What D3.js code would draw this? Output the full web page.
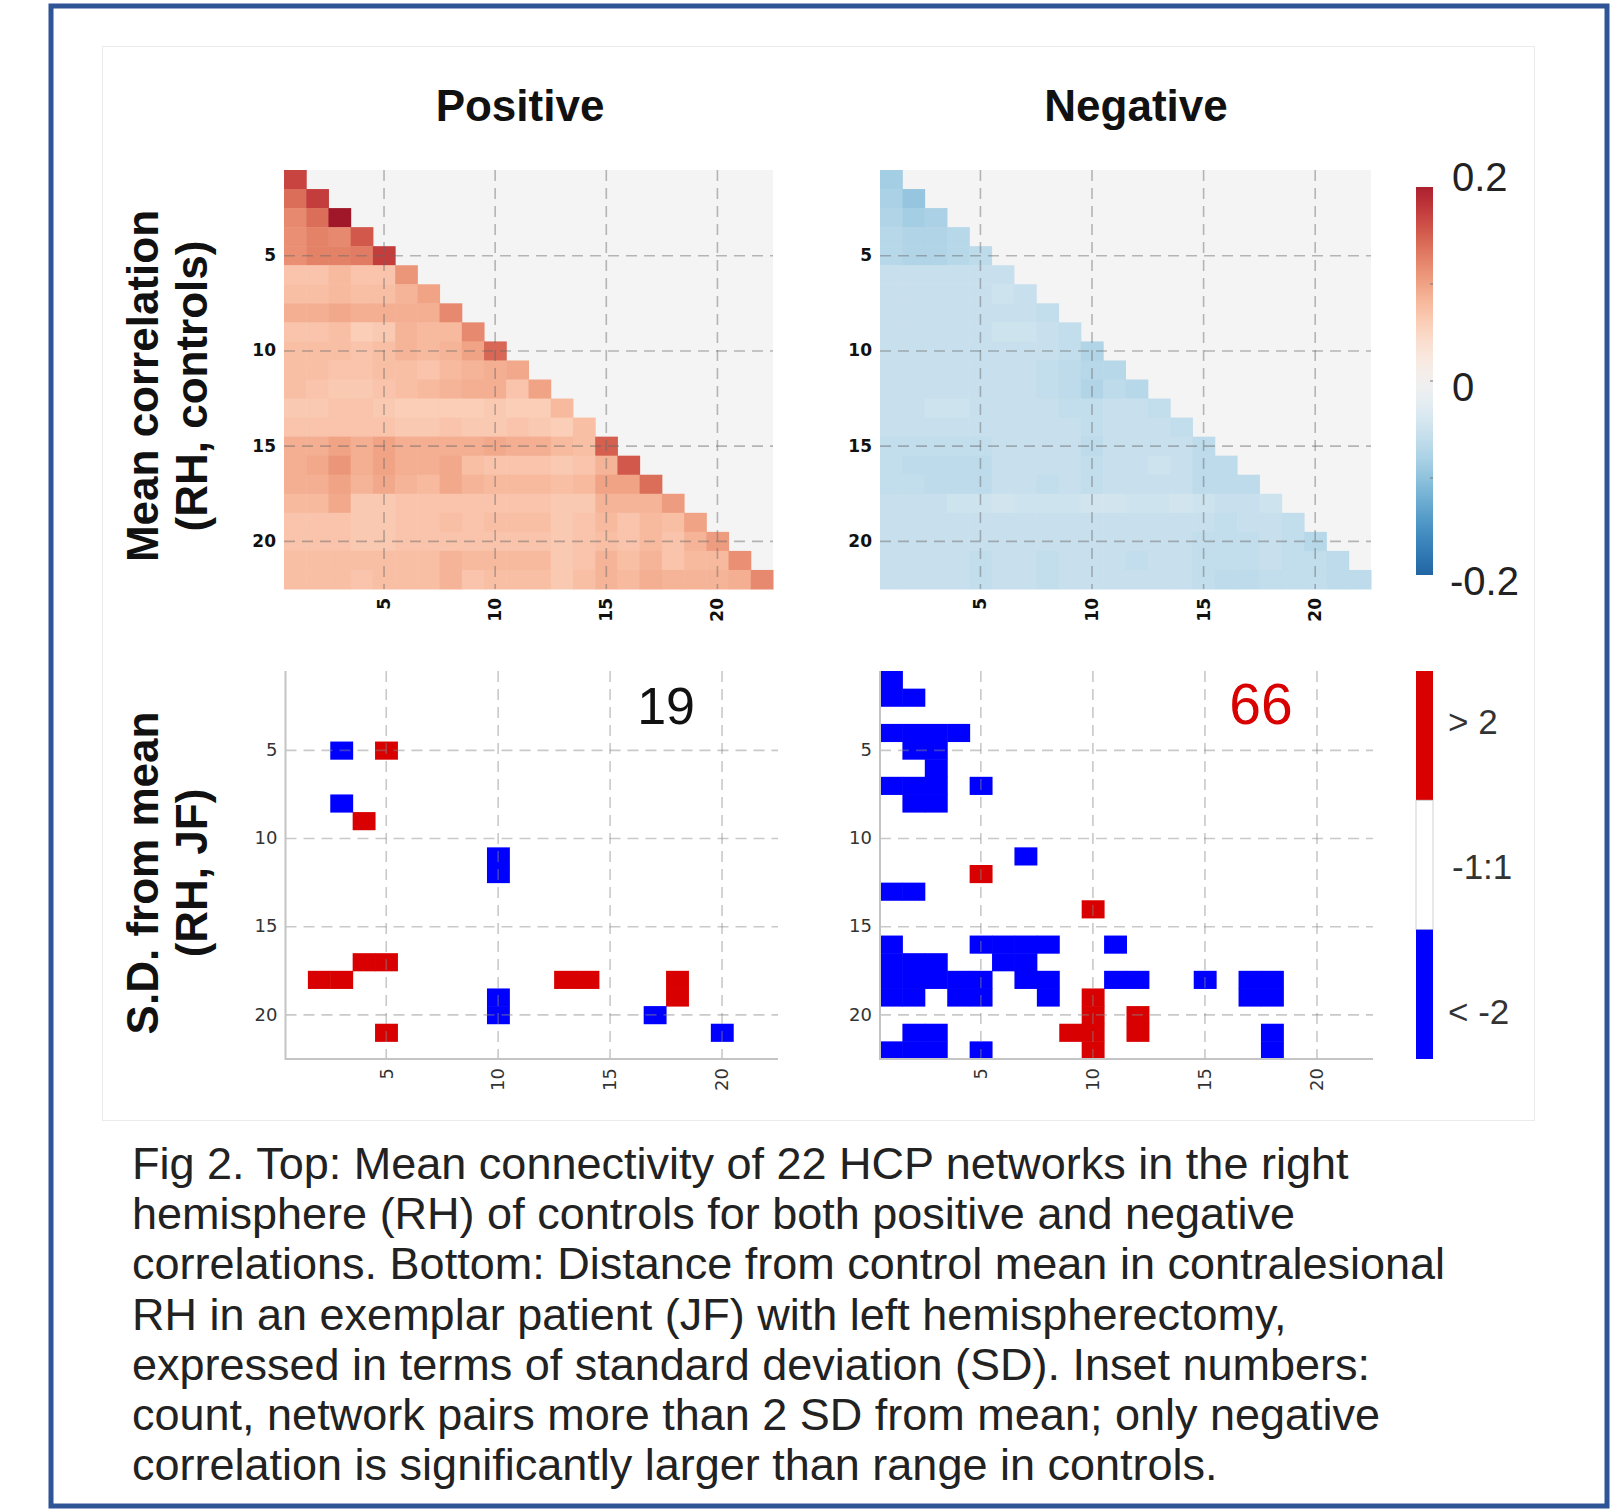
<!DOCTYPE html>
<html>
<head>
<meta charset="utf-8">
<script src="https://cdn.jsdelivr.net/npm/d3@7"></script>
<style>
  body { margin: 0; background: #fff; }
  text { font-family: "Liberation Sans", Arial, sans-serif; }
</style>
</head>
<body>
<svg id="fig" width="1615" height="1511"></svg>
<script>
// networks 1..22 on both axes
const networks = [1, 2, 3, 4, 5, 6, 7, 8, 9, 10, 11, 12, 13, 14, 15, 16, 17, 18, 19, 20, 21, 22];
const tickNets = [5, 10, 15, 20];

// mean correlation in controls, lower triangle, row by row
const positiveMean = [
  [.17],
  [.14, .175],
  [.12, .14, .21],
  [.115, .125, .12, .155],
  [.115, .125, .125, .13, .175],
  [.07, .07, .08, .07, .07, .11],
  [.075, .075, .08, .075, .075, .085, .10],
  [.09, .09, .095, .09, .09, .09, .09, .12],
  [.07, .07, .075, .06, .065, .085, .08, .08, .12],
  [.075, .075, .075, .07, .075, .085, .08, .085, .10, .145],
  [.075, .075, .07, .07, .075, .075, .07, .08, .085, .09, .095],
  [.075, .07, .065, .065, .07, .075, .08, .085, .09, .09, .07, .10],
  [.065, .065, .07, .07, .065, .06, .06, .06, .06, .065, .06, .06, .08],
  [.07, .07, .07, .07, .07, .065, .065, .07, .065, .065, .07, .065, .06, .075],
  [.09, .09, .10, .09, .10, .09, .09, .09, .09, .095, .09, .09, .08, .075, .15],
  [.09, .095, .11, .09, .10, .09, .09, .095, .075, .07, .07, .07, .065, .07, .085, .155],
  [.09, .09, .10, .085, .095, .085, .08, .095, .085, .08, .08, .08, .075, .08, .10, .10, .14],
  [.08, .08, .095, .065, .065, .07, .07, .07, .07, .07, .07, .07, .065, .065, .085, .085, .085, .105],
  [.07, .07, .07, .065, .065, .07, .07, .075, .07, .075, .075, .075, .065, .07, .08, .07, .08, .075, .10],
  [.07, .07, .07, .065, .065, .07, .07, .07, .07, .07, .07, .07, .065, .07, .075, .07, .08, .07, .085, .105],
  [.075, .075, .075, .075, .075, .075, .075, .085, .08, .08, .08, .08, .065, .07, .085, .075, .085, .07, .08, .08, .115],
  [.075, .075, .075, .07, .075, .075, .075, .085, .07, .075, .075, .075, .065, .075, .085, .08, .09, .085, .085, .085, .09, .12]
];

const negativeMean = [
  [-.085],
  [-.08, -.095],
  [-.075, -.085, -.08],
  [-.07, -.075, -.075, -.07],
  [-.07, -.075, -.075, -.07, -.065],
  [-.055, -.055, -.055, -.055, -.055, -.055],
  [-.055, -.055, -.055, -.055, -.055, -.05, -.055],
  [-.055, -.055, -.055, -.055, -.055, -.055, -.055, -.06],
  [-.055, -.055, -.055, -.055, -.055, -.05, -.05, -.055, -.06],
  [-.055, -.055, -.055, -.055, -.055, -.055, -.055, -.055, -.06, -.075],
  [-.055, -.055, -.055, -.055, -.055, -.055, -.055, -.06, -.065, -.07, -.07],
  [-.055, -.055, -.055, -.055, -.055, -.055, -.055, -.06, -.065, -.075, -.065, -.07],
  [-.055, -.055, -.05, -.05, -.055, -.055, -.055, -.055, -.06, -.06, -.055, -.055, -.06],
  [-.055, -.055, -.055, -.055, -.055, -.055, -.055, -.055, -.055, -.06, -.055, -.055, -.055, -.06],
  [-.06, -.06, -.06, -.06, -.06, -.055, -.055, -.055, -.055, -.065, -.055, -.055, -.055, -.055, -.065],
  [-.06, -.065, -.065, -.065, -.065, -.055, -.055, -.055, -.055, -.06, -.055, -.055, -.05, -.055, -.065, -.065],
  [-.06, -.06, -.065, -.065, -.065, -.055, -.055, -.06, -.055, -.06, -.055, -.055, -.055, -.055, -.065, -.065, -.065],
  [-.055, -.055, -.055, -.05, -.05, -.045, -.05, -.05, -.05, -.045, -.045, -.05, -.05, -.045, -.05, -.055, -.055, -.05],
  [-.055, -.055, -.055, -.055, -.055, -.055, -.055, -.055, -.055, -.055, -.055, -.055, -.055, -.055, -.055, -.06, -.055, -.055, -.06],
  [-.055, -.055, -.055, -.055, -.055, -.055, -.055, -.055, -.055, -.055, -.055, -.055, -.055, -.055, -.06, -.06, -.06, -.055, -.06, -.07],
  [-.055, -.055, -.055, -.055, -.06, -.055, -.055, -.06, -.055, -.055, -.055, -.06, -.055, -.055, -.06, -.06, -.06, -.055, -.06, -.06, -.065],
  [-.055, -.055, -.055, -.055, -.06, -.055, -.055, -.06, -.055, -.055, -.055, -.055, -.055, -.055, -.06, -.065, -.065, -.06, -.06, -.06, -.065, -.065]
];

// patient JF: cells more than 2 SD from control mean, [row, column]
const posAbove2 = [[5, 5], [9, 4], [17, 4], [17, 5], [18, 2], [18, 3], [18, 13], [18, 14], [18, 18], [19, 18], [21, 5]];
const posBelow2 = [[5, 3], [8, 3], [11, 10], [12, 10], [19, 10], [20, 10], [20, 17], [21, 20]];
const negAbove2 = [[12, 5], [14, 10], [19, 10], [20, 10], [20, 12], [21, 9], [21, 10], [21, 12], [22, 10]];
const negBelow2 = [
  [1, 1], [2, 1], [2, 2], [4, 1], [4, 2], [4, 3], [4, 4], [5, 2], [5, 3], [6, 3],
  [7, 1], [7, 2], [7, 3], [7, 5], [8, 2], [8, 3], [11, 7], [13, 1], [13, 2],
  [16, 1], [16, 5], [16, 6], [16, 7], [16, 8], [16, 11],
  [17, 1], [17, 2], [17, 3], [17, 6], [17, 7],
  [18, 1], [18, 2], [18, 3], [18, 4], [18, 5], [18, 7], [18, 8], [18, 11], [18, 12], [18, 15], [18, 17], [18, 18],
  [19, 1], [19, 2], [19, 4], [19, 5], [19, 8], [19, 17], [19, 18],
  [21, 2], [21, 3], [21, 18], [22, 1], [22, 2], [22, 3], [22, 5], [22, 18]
];
const insetCounts = ['19', '66'];

const corrTicks = [0.2, 0, -0.2];
const corrTickLabels = ['0.2', '0', '-0.2'];
const sdBins = ['> 2', '-1:1', '< -2'];
const sdColors = ['#d80000', '#ffffff', '#0000ff'];

const panelTitles = ['Positive', 'Negative'];
const rowTitles = [['Mean correlation', '(RH, controls)'], ['S.D. from mean', '(RH, JF)']];
const captionLines = [
  'Fig 2. Top: Mean connectivity of 22 HCP networks in the right',
  'hemisphere (RH) of controls for both positive and negative',
  'correlations. Bottom: Distance from control mean in contralesional',
  'RH in an exemplar patient (JF) with left hemispherectomy,',
  'expressed in terms of standard deviation (SD). Inset numbers:',
  'count, network pairs more than 2 SD from mean; only negative',
  'correlation is significantly larger than range in controls.'
];

const svg = d3.select('#fig');

// frames
svg.append('rect').attr('x', 51).attr('y', 6).attr('width', 1556).attr('height', 1500)
  .attr('fill', 'none').attr('stroke', '#2f5597').attr('stroke-width', 5);
svg.append('rect').attr('x', 102.5).attr('y', 46.5).attr('width', 1432).attr('height', 1074)
  .attr('fill', '#fff').attr('stroke', '#ebebeb');

const color = d3.scaleSequential(d3.interpolateRdBu).domain([0.25, -0.25]);

function scales(box) {
  const x = d3.scaleBand().domain(networks).range([box.x0, box.x1]);
  const y = d3.scaleBand().domain(networks).range([box.y0, box.y1]);
  return {x, y};
}

function grid(g, x, y, box, stroke, op) {
  const gg = g.append('g').attr('stroke', stroke).attr('stroke-opacity', op)
    .attr('stroke-width', 1.6).attr('stroke-dasharray', '11,7');
  gg.selectAll('line.v').data(tickNets).join('line')
    .attr('x1', d => x(d) + x.bandwidth() / 2).attr('x2', d => x(d) + x.bandwidth() / 2)
    .attr('y1', box.y0).attr('y2', box.y1);
  gg.selectAll('line.h').data(tickNets).join('line')
    .attr('y1', d => y(d) + y.bandwidth() / 2).attr('y2', d => y(d) + y.bandwidth() / 2)
    .attr('x1', box.x0).attr('x2', box.x1);
}

function axes(g, x, y, box, bold) {
  const ya = g.append('g').attr('transform', `translate(${box.x0},0)`)
    .call(d3.axisLeft(y).tickValues(tickNets).tickSize(0).tickPadding(8));
  const xa = g.append('g').attr('transform', `translate(0,${box.y1})`)
    .call(d3.axisBottom(x).tickValues(tickNets).tickSize(0));
  xa.selectAll('text').attr('transform', 'rotate(-90)').attr('text-anchor', 'end')
    .attr('x', -9).attr('y', 0).attr('dy', '0.35em');
  [ya, xa].forEach(a => {
    a.select('.domain').remove();
    a.selectAll('text').style('font-family', 'DejaVu Sans')
      .style('font-size', bold ? '17px' : '18px')
      .style('font-weight', bold ? 'bold' : 'normal')
      .attr('fill', bold ? '#111' : '#333');
  });
}

function heatmap(values, box) {
  const {x, y} = scales(box);
  const g = svg.append('g');
  g.append('rect').attr('x', box.x0).attr('y', box.y0)
    .attr('width', box.x1 - box.x0).attr('height', box.y1 - box.y0).attr('fill', '#f4f4f4');
  const cells = values.flatMap((row, i) => row.map((v, j) => ({r: networks[i], c: networks[j], v})));
  g.selectAll('rect.cell').data(cells).join('rect').attr('class', 'cell')
    .attr('x', d => x(d.c)).attr('y', d => y(d.r))
    .attr('width', x.bandwidth() + 0.5).attr('height', y.bandwidth() + 0.5)
    .attr('fill', d => color(d.v));
  grid(g, x, y, box, '#666', 0.45);
  axes(g, x, y, box, true);
}

function deviation(above, below, box, count, countColor) {
  const {x, y} = scales(box);
  const g = svg.append('g');
  const cells = above.map(d => ({r: d[0], c: d[1], f: sdColors[0]}))
    .concat(below.map(d => ({r: d[0], c: d[1], f: sdColors[2]})));
  g.selectAll('rect.cell').data(cells).join('rect').attr('class', 'cell')
    .attr('x', d => x(d.c)).attr('y', d => y(d.r))
    .attr('width', x.bandwidth() + 0.5).attr('height', y.bandwidth() + 0.5)
    .attr('fill', d => d.f);
  grid(g, x, y, box, '#888', 0.45);
  g.append('path').attr('d', `M${box.x0},${box.y0}V${box.y1}H${box.x1}`)
    .attr('fill', 'none').attr('stroke', '#c4c4c4').attr('stroke-width', 2);
  axes(g, x, y, box, false);
  g.append('text').attr('x', x(18)).attr('y', y(4)).attr('text-anchor', 'middle')
    .attr('font-size', count === '66' ? 57 : 52).attr('fill', countColor).text(count);
}

const boxes = {
  pos: {x0: 284, x1: 773, y0: 170, y1: 589},
  neg: {x0: 880, x1: 1371, y0: 170, y1: 589},
  posSD: {x0: 285.5, x1: 778, y0: 671, y1: 1059},
  negSD: {x0: 880, x1: 1373, y0: 671, y1: 1059}
};

heatmap(positiveMean, boxes.pos);
heatmap(negativeMean, boxes.neg);
deviation(posAbove2, posBelow2, boxes.posSD, insetCounts[0], '#111');
deviation(negAbove2, negBelow2, boxes.negSD, insetCounts[1], '#d80000');

// titles
svg.selectAll('text.ptitle').data(panelTitles).join('text').attr('class', 'ptitle')
  .attr('x', (d, i) => i ? 1136 : 520).attr('y', 121).attr('text-anchor', 'middle')
  .attr('font-size', 44).attr('font-weight', 'bold').attr('fill', '#111').text(d => d);

rowTitles.forEach((lines, i) => {
  const cy = i ? 873 : 386;
  lines.forEach((t, k) => {
    svg.append('text').attr('transform', `translate(${k ? 207 : 158},${cy}) rotate(-90)`)
      .attr('text-anchor', 'middle').attr('font-size', 44).attr('font-weight', 'bold')
      .attr('fill', '#111').text(t);
  });
});

// correlation colorbar
const cb = {x: 1416, w: 17, y0: 187, y1: 575};
const cbY = d3.scaleLinear().domain([0.2, -0.2]).range([cb.y0, cb.y1]);
const grad = svg.append('defs').append('linearGradient').attr('id', 'cbar')
  .attr('x1', 0).attr('x2', 0).attr('y1', 0).attr('y2', 1);
grad.selectAll('stop').data(d3.range(0, 1.0001, 0.05)).join('stop')
  .attr('offset', d => d).attr('stop-color', d => color(cbY.invert(cb.y0 + d * (cb.y1 - cb.y0))));
svg.append('rect').attr('x', cb.x).attr('y', cb.y0).attr('width', cb.w).attr('height', cb.y1 - cb.y0)
  .attr('fill', 'url(#cbar)');
svg.selectAll('line.cbt').data([0.1, 0, -0.1]).join('line').attr('class', 'cbt')
  .attr('x1', cb.x + cb.w - 3).attr('x2', cb.x + cb.w).attr('y1', d => cbY(d)).attr('y2', d => cbY(d))
  .attr('stroke', '#777');
const cbLabelY = d3.scaleLinear().domain([0.2, 0, -0.2]).range([177, 387, 581]);
svg.selectAll('text.cbl').data(corrTicks).join('text').attr('class', 'cbl')
  .attr('x', (d, i) => corrTickLabels[i].startsWith('-') ? 1450 : 1452)
  .attr('y', d => cbLabelY(d)).attr('dy', '0.36em')
  .attr('font-size', 40).attr('fill', '#222').text((d, i) => corrTickLabels[i]);

// SD legend
const sdY = d3.scaleBand().domain(sdBins).range([671, 1059]);
svg.selectAll('rect.sd').data(sdBins).join('rect').attr('class', 'sd')
  .attr('x', cb.x).attr('y', d => sdY(d)).attr('width', cb.w).attr('height', sdY.bandwidth())
  .attr('fill', (d, i) => sdColors[i]).attr('stroke', (d, i) => i === 1 ? '#d0d0d0' : 'none');
const sdLabelY = d3.scalePoint().domain(sdBins).range([721, 1011]);
svg.selectAll('text.sdl').data(sdBins).join('text').attr('class', 'sdl')
  .attr('x', (d, i) => i === 1 ? 1452 : 1448).attr('y', d => sdLabelY(d)).attr('dy', '0.36em')
  .attr('font-size', 35).attr('fill', '#333').text(d => d);

// caption
svg.selectAll('text.cap').data(captionLines).join('text').attr('class', 'cap')
  .attr('x', 132).attr('y', (d, i) => 1179 + i * 50.2)
  .attr('font-size', 45).attr('fill', '#222').text(d => d);
</script>
</body>
</html>
